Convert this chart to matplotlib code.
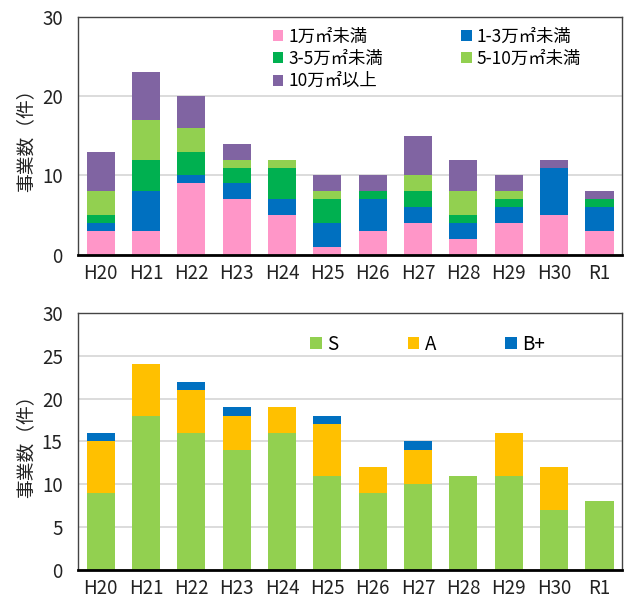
import numpy as np
import matplotlib
matplotlib.use('Agg')
import matplotlib.pyplot as plt

plt.rcParams['font.family'] = ['Noto Sans CJK JP', 'DejaVu Sans']

years = ['H20', 'H21', 'H22', 'H23', 'H24', 'H25', 'H26', 'H27', 'H28', 'H29', 'H30', 'R1']

# top chart: projects by area
area_labels = ['1万㎡未満', '1-3万㎡未満', '3-5万㎡未満', '5-10万㎡未満', '10万㎡以上']
under_1 = [3, 3, 9, 7, 5, 1, 3, 4, 2, 4, 5, 3]
from_1_3 = [1, 5, 1, 2, 2, 3, 4, 2, 2, 2, 6, 3]
from_3_5 = [1, 4, 3, 2, 4, 3, 1, 2, 1, 1, 0, 1]
from_5_10 = [3, 5, 3, 1, 1, 1, 0, 2, 3, 1, 0, 0]
over_10 = [5, 6, 4, 2, 0, 2, 2, 5, 4, 2, 1, 1]
area_colors = ['#ff96c8', '#0070c0', '#00b050', '#92d050', '#8064a2']

# bottom chart: projects by rank
rank_labels = ['S', 'A', 'B+']
rank_s = [9, 18, 16, 14, 16, 11, 9, 10, 11, 11, 7, 8]
rank_a = [6, 6, 5, 4, 3, 6, 3, 4, 0, 5, 5, 0]
rank_bp = [1, 0, 1, 1, 0, 1, 0, 1, 0, 0, 0, 0]
rank_colors = ['#92d050', '#ffc000', '#0070c0']

fig = plt.figure(figsize=(6.24, 6.01), dpi=100)
ax1 = fig.add_axes([0.125, 0.576, 0.872, 0.396])
ax2 = fig.add_axes([0.125, 0.052, 0.872, 0.427])

x = np.arange(len(years))
width = 0.62


def stack(ax, series, colors, labels):
    bottom = np.zeros(len(years))
    bars = []
    for vals, c, lab in zip(series, colors, labels):
        b = ax.bar(x, vals, width, bottom=bottom, color=c, label=lab)
        bars.append(b)
        bottom += np.array(vals)
    return bars


def style(ax, ymax, step):
    ax.set_xlim(-0.5, len(years) - 0.5)
    ax.set_ylim(0, ymax)
    ax.set_yticks(np.arange(0, ymax + 1, step))
    ax.set_xticks(x)
    ax.set_xticklabels(years)
    ax.yaxis.grid(True, color='#d9d9d9', linewidth=1.3)
    ax.set_axisbelow(True)
    ax.tick_params(length=0, labelsize=13.5, colors='#222222')
    ax.tick_params(axis='y', pad=11)
    ax.tick_params(axis='x', pad=6)
    for s in ['top', 'right', 'left']:
        ax.spines[s].set_color('#444444')
        ax.spines[s].set_linewidth(1.0)
    ax.spines['bottom'].set_color('black')
    ax.spines['bottom'].set_linewidth(2.0)
    ax.set_ylabel('事業数（件）', fontsize=13.5, color='#222222', labelpad=4)


bars1 = stack(ax1, [under_1, from_1_3, from_3_5, from_5_10, over_10], area_colors, area_labels)
style(ax1, 30, 10)
order = [0, 2, 4, 1, 3]
ax1.legend([bars1[i] for i in order], [area_labels[i] for i in order],
           ncol=2, loc='upper left', bbox_to_anchor=(0.358, 0.955), frameon=False,
           fontsize=12.5, handlelength=0.6, handleheight=0.6, handletextpad=0.3,
           columnspacing=4.5, labelspacing=0.25, borderpad=0, borderaxespad=0)

bars2 = stack(ax2, [rank_s, rank_a, rank_bp], rank_colors, rank_labels)
style(ax2, 30, 5)
ax2.legend(bars2, rank_labels, ncol=3, loc='upper left', bbox_to_anchor=(0.427, 0.92),
           frameon=False, fontsize=13.5, handlelength=0.6, handleheight=0.6,
           handletextpad=0.3, columnspacing=3.7, borderpad=0, borderaxespad=0)

fig.savefig('out.png', dpi=100)
